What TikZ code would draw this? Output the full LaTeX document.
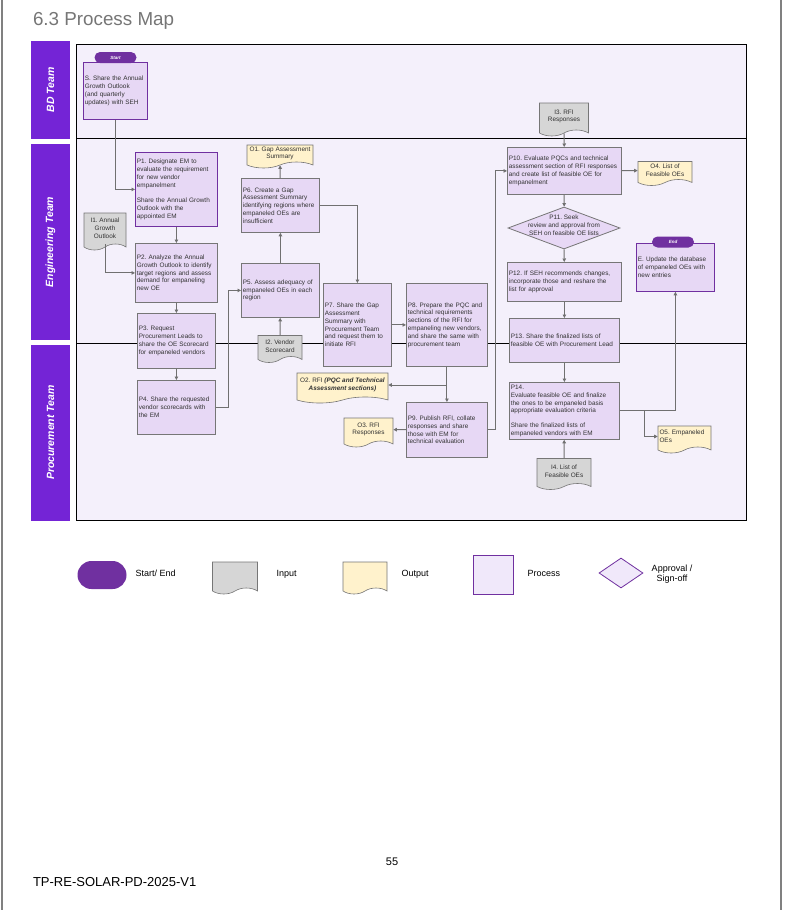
\documentclass[tikz,border=0pt]{standalone}
\usepackage{fontspec}
\setmainfont{Liberation Sans}
\usetikzlibrary{calc}
\usetikzlibrary{positioning}
\usetikzlibrary{shapes.geometric, shapes.symbols}
\usetikzlibrary{arrows.meta}

\definecolor{lanepurple}{RGB}{116,36,214}
\definecolor{pillpurple}{RGB}{112,48,160}
\definecolor{mapfill}{RGB}{244,240,251}
\definecolor{procfill}{RGB}{231,216,245}
\definecolor{procline}{RGB}{118,118,118}
\definecolor{infill}{RGB}{214,214,214}
\definecolor{outfill}{RGB}{255,242,204}
\definecolor{flowgray}{RGB}{112,112,112}
\definecolor{legfill}{RGB}{240,232,250}
\definecolor{titlegray}{RGB}{118,118,118}
\definecolor{boxtext}{RGB}{50,50,50}

\newcommand{\boxfont}{\fontsize{6.4}{7.8}\selectfont}
\frenchspacing

\begin{document}
\begin{tikzpicture}[x=1pt, y=-1pt,
    lane/.style={fill=lanepurple, text=white, rotate=90, minimum height=39pt,
        font=\fontsize{10.5}{12}\selectfont\bfseries\itshape},
    proc/.style={rectangle, draw=procline, fill=procfill, line width=0.8pt,
        inner xsep=1.5pt, inner ysep=1pt, align=left, text=boxtext, font=\boxfont,
        anchor=north west},
    doc/.style={tape, tape bend top=none, tape bend height=6pt, draw=procline,
        line width=0.6pt, inner sep=1pt, align=center, text=boxtext, font=\boxfont},
    indoc/.style={doc, fill=infill},
    outdoc/.style={doc, fill=outfill},
    pill/.style={rectangle, rounded corners=5.5pt, fill=pillpurple, text=white,
        minimum width=42pt, minimum height=11pt, inner sep=0pt,
        font=\fontsize{4.5}{5}\selectfont\bfseries\itshape},
    flow/.style={draw=flowgray, line width=1pt, -{Triangle[length=3.5pt,width=3.5pt]}},
    legtext/.style={font=\fontsize{9}{10.5}\selectfont, align=center},
    legword/.style={legtext, anchor=west, text height=6.5pt, text depth=2pt}]

    % Page and bounding box
    \fill[white] (0,0) rectangle (790,910);
    \useasboundingbox (0,0) rectangle (790,910);
    \draw[gray, line width=1.2pt] (2,0) -- (2,910);
    \draw[gray, line width=1.2pt] (781,0) -- (781,910);
    \node[anchor=west, text=titlegray, font=\fontsize{18.8}{21}\selectfont] (title) at (29.5,21) {6.3 Process Map};

    % Swim lanes
    \node[lane, minimum width=98pt] (bdlane) at (50.5,90) {BD Team};
    \node[lane, minimum width=196pt] (englane) at (50.5,242) {Engineering Team};
    \node[lane, minimum width=176pt] (proclane) at (50.5,432.5) {Procurement Team};
    \draw[fill=mapfill, line width=0.9pt] (76,44) rectangle (746,520);
    \draw[line width=0.9pt] (76,138.5) -- (746,138.5);
    \draw[line width=0.9pt] (76,343.5) -- (746,343.5);

    % BD Team
    \node[proc, draw=pillpurple, text width=61pt, minimum height=57pt] (s) at (83,62)
        {S. Share the Annual\\Growth Outlook\\(and quarterly\\updates) with SEH};
    \node[pill] (start) at (115.5,57.5) {Start};
    \node[indoc, minimum width=49pt, minimum height=33pt] (i3) at (564,116.5) {I3. RFI\\Responses};

    % Engineering Team
    \node[proc, draw=pillpurple, text width=79pt, minimum height=74pt] (p1) at (135,152)
        {P1. Designate EM to\\evaluate the requirement\\for new vendor\\empanelment\\[7.8pt]Share the Annual Growth\\Outlook with the\\appointed EM};
    \node[indoc, minimum width=42pt, minimum height=37pt] (i1) at (105,228.5) {I1. Annual\\Growth\\Outlook};
    \node[proc, text width=79pt, minimum height=59pt] (p2) at (135,243)
        {P2. Analyze the Annual\\Growth Outlook to identify\\target regions and assess\\demand for empaneling\\new OE};
    \node[proc, text width=75pt, minimum height=54pt] (p6) at (241,178)
        {P6. Create a Gap\\Assessment Summary\\identifying regions where\\empaneled OEs are\\insufficient};
    \node[outdoc, minimum width=66pt, minimum height=23pt] (o1) at (280,153.5) {O1. Gap Assessment\\Summary};
    \node[proc, text width=75pt, minimum height=54pt] (p5) at (241,263)
        {P5. Assess adequacy of\\empaneled OEs in each\\region};
    \node[proc, text width=111pt, minimum height=47pt] (p10) at (507,147)
        {P10. Evaluate PQCs and technical\\assessment section of RFI responses\\and create list of feasible OE for\\empanelment};
    \node[outdoc, minimum width=54pt, minimum height=24pt] (o4) at (665,170.5) {O4. List of\\Feasible OEs};
    \node[diamond, draw=procline, fill=procfill, line width=0.8pt, minimum width=112pt,
        minimum height=42pt, inner sep=0pt] (p11) at (564,228) {};
    \node[align=center, text=boxtext, font=\boxfont] (p11text) at (564,225)
        {P11. Seek\\review and approval from\\SEH on feasible OE lists};
    \node[proc, text width=111pt, minimum height=39pt] (p12) at (507,262)
        {P12. If SEH recommends changes,\\incorporate those and reshare the\\list for approval};
    \node[proc, draw=pillpurple, text width=75pt, minimum height=48pt] (e) at (636,243)
        {E. Update the database\\of empaneled OEs with\\new entries};
    \node[pill] (end) at (673,242) {End};

    % Across Engineering and Procurement
    \node[proc, text width=75pt, minimum height=55pt] (p3) at (137,313)
        {P3. Request\\Procurement Leads to\\share the OE Scorecard\\for empaneled vendors};
    \node[indoc, minimum width=44pt, minimum height=27pt] (i2) at (280,346) {I2. Vendor\\Scorecard};
    \node[proc, text width=65pt, minimum height=83pt] (p7) at (323,283)
        {P7. Share the Gap\\Assessment\\Summary with\\Procurement Team\\and request them to\\initiate RFI};
    \node[proc, text width=78pt, minimum height=83pt] (p8) at (406,283)
        {P8. Prepare the PQC and\\technical requirements\\sections of the RFI for\\empaneling new vendors,\\and share the same with\\procurement team};
    \node[proc, text width=107pt, minimum height=44pt] (p13) at (509,318)
        {P13. Share the finalized lists of\\feasible OE with Procurement Lead};

    % Procurement Team
    \node[proc, text width=75pt, minimum height=54pt] (p4) at (137,380)
        {P4. Share the requested\\vendor scorecards with\\the EM};
    \node[outdoc, minimum width=91pt, minimum height=30pt] (o2) at (342.5,385)
        {O2. RFI \textbf{\textit{(PQC and Technical}}\\\textbf{\textit{Assessment sections)}}};
    \node[proc, text width=78pt, minimum height=55pt] (p9) at (406,402)
        {P9. Publish RFI, collate\\responses and share\\those with EM for\\technical evaluation};
    \node[outdoc, minimum width=49pt, minimum height=29pt] (o3) at (368.5,429.5) {O3. RFI\\Responses};
    \node[proc, text width=107pt, minimum height=57pt] (p14) at (509,382)
        {P14.\\Evaluate feasible OE and finalize\\the ones to be empaneled basis\\appropriate evaluation criteria\\[7pt]Share the finalized lists of\\empaneled vendors with EM};
    \node[indoc, minimum width=54pt, minimum height=31pt] (i4) at (564,471) {I4. List of\\Feasible OEs};
    \node[outdoc, align=left, text width=50pt, minimum width=53pt, minimum height=27pt] (o5) at (684.5,436.5)
        {O5. Empaneled\\OEs};

    % Connectors
    \draw[flow] (s.south) |- (p1.west);
    \draw[flow] (p1) -- (p2);
    \draw[flow] (i1.south) |- (p2.west);
    \draw[flow] (p2) -- (p3);
    \draw[flow] (p3) -- (p4);
    \draw[flow] (p4.east) -- ++(13,0) |- (p5.west);
    \draw[flow] (i2) -- (p5);
    \draw[flow] (p5) -- (p6);
    \draw[flow] (p6) -- (o1);
    \draw[flow] (p6.east) -| (p7.north);
    \draw[flow] (p7) -- (p8);
    \draw[flow] (p8) -- (p9);
    \draw[flow] (p8.south |- o2.east) -- (o2.east);
    \draw[flow] (p9) -- (o3);
    \draw[flow] (p9.east) -- ++(8,0) |- (p10.west);
    \draw[flow] (i3) -- (p10);
    \draw[flow] (p10) -- (o4);
    \draw[flow] (p10) -- (p11);
    \draw[flow] (p11) -- (p12);
    \draw[flow] (p12) -- (p13);
    \draw[flow] (p13) -- (p14);
    \draw[flow] (i4) -- (p14);
    \draw[flow] (p14.east) -| (e.south);
    \draw[flow] ($(p14.east)+(25,0)$) |- (o5.west);

    % Legend
    \node[pill, minimum width=49pt, minimum height=28pt, rounded corners=14pt] (legstart) at (102,575) {};
    \node[legword] (legstarttxt) at (132,574) {Start/ End};
    \node[indoc, minimum width=45pt, minimum height=32pt] (legin) at (235,575) {};
    \node[legword] (legintxt) at (273,574) {Input};
    \node[outdoc, minimum width=44pt, minimum height=32pt] (legout) at (365,575) {};
    \node[legword] (legouttxt) at (398,574) {Output};
    \node[rectangle, draw=pillpurple, fill=legfill, line width=0.8pt, minimum width=40pt,
        minimum height=39pt] (legproc) at (493,575) {};
    \node[legword] (legproctxt) at (524,574) {Process};
    \node[diamond, draw=pillpurple, fill=legfill, line width=0.8pt, minimum width=44pt,
        minimum height=30pt, inner sep=0pt] (legappr) at (621,573) {};
    \node[legtext] (legapprtxt) at (672,574) {Approval /\\Sign-off};

    % Footer
    \node[font=\fontsize{11}{13}\selectfont] (pagenum) at (392,862) {55};
    \node[anchor=west, font=\fontsize{13}{15}\selectfont] (docid) at (29.5,882) {TP-RE-SOLAR-PD-2025-V1};
\end{tikzpicture}
\end{document}
